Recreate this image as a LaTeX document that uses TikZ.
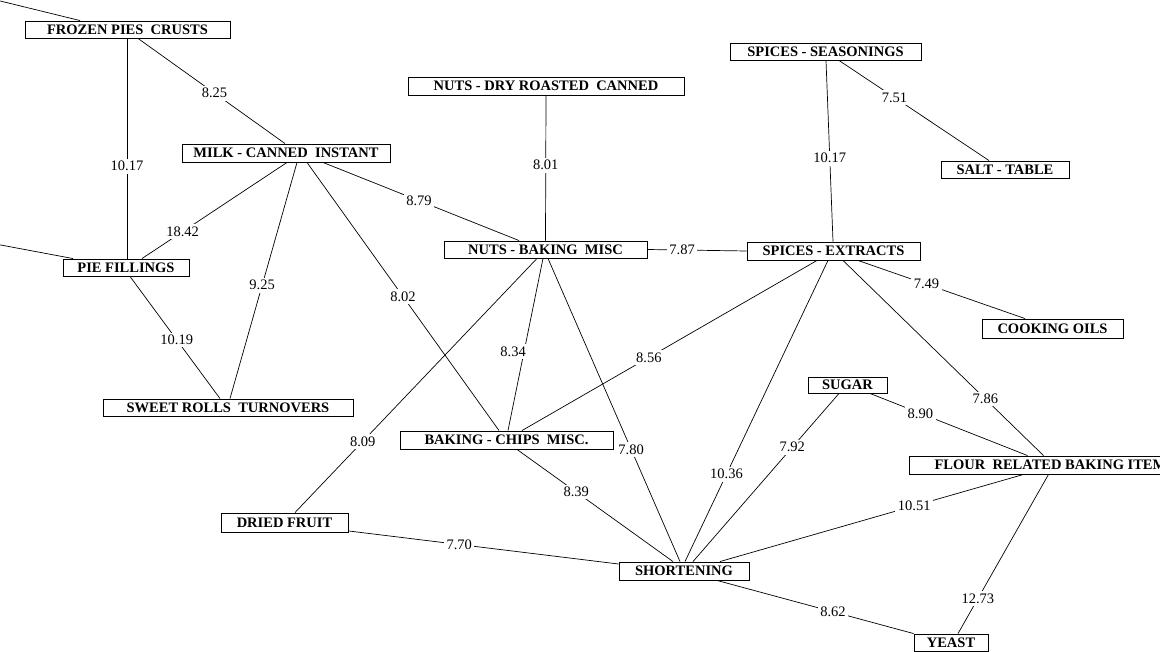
\documentclass[tikz,border=0pt]{standalone}
\usepackage{fontspec}
\setmainfont{Liberation Serif}
\begin{document}
\begin{tikzpicture}[x=1pt,y=-1pt,
  box/.style={draw, line width=0.9pt, fill=white, inner sep=0pt,
    font=\fontsize{14.5}{14.5}\selectfont\bfseries, minimum height=17pt},
  lbl/.style={fill=white, inner sep=2.5pt, font=\fontsize{14.5}{14.5}\selectfont},
  edge/.style={line width=0.7pt}]
\useasboundingbox (0,0) rectangle (1160,652);
\clip (0,0) rectangle (1160,652);

% nodes
\node[box, minimum width=205pt] (frozen) at (127.5,29.5) {FROZEN PIES~ CRUSTS};
\node[box, minimum width=208pt, minimum height=18pt] (milk) at (286,153) {MILK - CANNED~ INSTANT};
\node[box, minimum width=126pt] (pie) at (126,267.5) {PIE FILLINGS};
\node[box, minimum width=250pt] (sweet) at (228,407.5) {SWEET ROLLS~ TURNOVERS};
\node[box, minimum width=276pt, minimum height=18pt] (nutsdry) at (546,86) {NUTS - DRY ROASTED~ CANNED};
\node[box, minimum width=203pt] (nutsbak) at (545.5,249.5) {NUTS - BAKING~ MISC};
\node[box, minimum width=191pt] (spseas) at (825.5,51.5) {SPICES - SEASONINGS};
\node[box, minimum width=128pt] (salt) at (1005,169.5) {SALT - TABLE};
\node[box, minimum width=173pt, minimum height=18pt] (spext) at (833.5,251) {SPICES - EXTRACTS};
\node[box, minimum width=141pt, minimum height=19pt] (oils) at (1052.5,328.5) {COOKING OILS};
\node[box, minimum width=213pt, minimum height=18pt] (chips) at (506.5,440) {BAKING - CHIPS~ MISC.};
\node[box, minimum width=127pt, minimum height=19pt] (dried) at (284.5,522.5) {DRIED FRUIT};
\node[box, minimum width=130pt, minimum height=18pt] (short) at (684,571) {SHORTENING};
\node[box, minimum width=79pt, minimum height=16pt] (sugar) at (847.5,385) {SUGAR};
\node[box, minimum width=291pt, minimum height=18pt] (flour) at (1054.5,465) {FLOUR~ RELATED BAKING ITEMS};
\node[box, minimum width=74pt] (yeast) at (951,642.5) {YEAST};

\coordinate (offA) at (-10,-1.5);
\coordinate (offB) at (-10,243);

% connectors
\draw[edge] (offA) -- ([xshift=-47.5pt]frozen.north);
\draw[edge] (offB) -- ([xshift=-53pt]pie.north);
\draw[edge] ([xshift=10.5pt]frozen.south) -- node[lbl,pos=.52]{8.25} ([xshift=-1pt]milk.north);
\draw[edge] ([xshift=-0.5pt]frozen.south) -- node[lbl,pos=.58]{10.17} ([xshift=1pt]pie.north);
\draw[edge] ([xshift=1pt]milk.south) -- node[lbl,pos=.72]{18.42} ([xshift=16pt]pie.north);
\draw[edge] ([xshift=11pt]milk.south) -- node[lbl,pos=.52]{9.25} ([xshift=2pt]sweet.north);
\draw[edge] ([xshift=21pt]milk.south) -- node[lbl,pos=.50]{8.02} ([xshift=-7.5pt]chips.north);
\draw[edge] ([xshift=37pt]milk.south) -- node[lbl,pos=.49]{8.79} ([xshift=-26.5pt]nutsbak.north);
\draw[edge] (nutsdry.south) -- node[lbl,pos=.48]{8.01} (nutsbak.north);
\draw[edge] (nutsbak.east) -- node[lbl,pos=.35]{7.87} (spext.west);
\draw[edge] ([xshift=0.5pt]spseas.south) -- node[lbl,pos=.54]{10.17} ([xshift=-0.5pt]spext.north);
\draw[edge] ([xshift=13.5pt]spseas.south) -- node[lbl,pos=.37]{7.51} ([xshift=-16pt]salt.north);
\draw[edge] ([xshift=24.5pt]spext.south) -- node[lbl,pos=.41]{7.49} ([xshift=-27.5pt]oils.north);
\draw[edge] ([xshift=4pt]pie.south) -- node[lbl,pos=.52]{10.19} ([xshift=-8pt]sweet.north);
\draw[edge] ([xshift=-8.5pt]nutsbak.south) -- node[lbl,pos=.72]{8.09} ([xshift=10.5pt]dried.north);
\draw[edge] ([xshift=-2.5pt]nutsbak.south) -- node[lbl,pos=.54,xshift=-11pt]{8.34} ([xshift=1.5pt]chips.north);
\draw[edge] ([xshift=2.5pt]nutsbak.south) -- node[lbl,pos=.63]{7.80} ([xshift=-4pt]short.north);
\draw[edge] ([xshift=-16.5pt]spext.south) -- node[lbl,pos=.57]{8.56} ([xshift=15.5pt]chips.north);
\draw[edge] ([xshift=-5.5pt]spext.south) -- node[lbl,pos=.71]{10.36} ([xshift=1pt]short.north);
\draw[edge] ([xshift=9.5pt]spext.south) -- node[lbl,pos=.71]{7.86} ([xshift=-11pt]flour.north);
\draw[edge] ([xshift=-8.5pt]sugar.south) -- node[lbl,pos=.32]{7.92} ([xshift=9pt]short.north);
\draw[edge] ([xshift=22.5pt]sugar.south) -- node[lbl,pos=.32]{8.90} ([xshift=-27pt]flour.north);
\draw[edge] ([xshift=10.5pt]chips.south) -- node[lbl,pos=.38]{8.39} ([xshift=-11pt]short.north);
\draw[edge] ([yshift=1.5pt]dried.south east) -- node[lbl,pos=.41]{7.70} ([yshift=7pt]short.west);
\draw[edge] ([xshift=36pt]short.north) -- node[lbl,pos=.64]{10.51} ([xshift=-31pt]flour.south);
\draw[edge] ([xshift=33pt]short.south) -- node[lbl,pos=.59]{8.62} (yeast.north west);
\draw[edge] ([xshift=-6pt]flour.south) -- node[lbl,pos=.78]{12.73} ([xshift=7pt]yeast.north);
\end{tikzpicture}
\end{document}
